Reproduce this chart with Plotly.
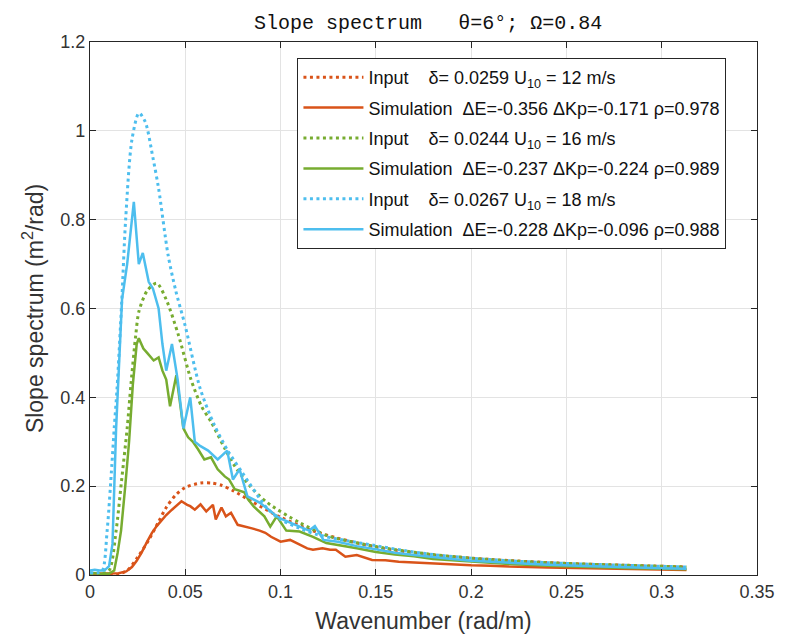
import plotly.graph_objects as go

# ---------------- data ----------------
# Input spectra (dotted)
k_in12 = [0, 0.015, 0.020, 0.025, 0.031, 0.036, 0.040, 0.045, 0.050, 0.058, 0.064, 0.069, 0.075,
          0.085, 0.10, 0.12, 0.15, 0.18, 0.21, 0.25, 0.28, 0.313]
s_in12 = [0.0, 0.002, 0.012, 0.04, 0.08, 0.12, 0.152, 0.18, 0.197, 0.207, 0.207, 0.202, 0.19,
          0.165, 0.13, 0.095, 0.063, 0.045, 0.035, 0.026, 0.022, 0.018]

k_in16 = [0, 0.006, 0.010, 0.0137, 0.0165, 0.0195, 0.0215, 0.024, 0.0257, 0.030, 0.035, 0.040,
          0.0464, 0.053, 0.0585, 0.0635, 0.0707, 0.076, 0.084, 0.093, 0.110, 0.125, 0.15, 0.18,
          0.20, 0.22, 0.25, 0.28, 0.313]
s_in16 = [0.003, 0.003, 0.01, 0.10, 0.21, 0.33, 0.43, 0.54, 0.594, 0.64, 0.657, 0.62,
          0.54, 0.44, 0.38, 0.345, 0.285, 0.245, 0.20, 0.163, 0.118, 0.088, 0.064, 0.046,
          0.038, 0.032, 0.026, 0.022, 0.018]

k_in18 = [0, 0.004, 0.0065, 0.009, 0.0115, 0.0127, 0.0142, 0.0167, 0.0187, 0.022, 0.0257, 0.029,
          0.033, 0.036, 0.041, 0.045, 0.050, 0.0578, 0.065, 0.0723, 0.080, 0.093, 0.100, 0.110,
          0.120, 0.135, 0.150, 0.165, 0.180, 0.200, 0.220, 0.250, 0.280, 0.313]
s_in18 = [0.005, 0.005, 0.01, 0.10, 0.25, 0.33, 0.42, 0.62, 0.80, 0.98, 1.04, 1.02,
          0.94, 0.87, 0.72, 0.64, 0.56, 0.42, 0.34, 0.28, 0.23, 0.15, 0.125, 0.105,
          0.09, 0.077, 0.066, 0.055, 0.046, 0.038, 0.032, 0.026, 0.022, 0.018]

# Simulated spectra (solid)
k_sim12 = [0, 0.005, 0.010, 0.015, 0.019, 0.022, 0.0245, 0.027, 0.030, 0.0325, 0.035, 0.0377,
           0.040, 0.043, 0.046, 0.048, 0.051, 0.0526, 0.055, 0.058, 0.061, 0.0645, 0.066, 0.069,
           0.0713, 0.074, 0.0775, 0.0816, 0.085, 0.089, 0.092, 0.095, 0.100, 0.105, 0.110, 0.114,
           0.117, 0.122, 0.126, 0.129, 0.134, 0.140, 0.148, 0.155, 0.162, 0.170, 0.180, 0.190,
           0.200, 0.210, 0.220, 0.240, 0.260, 0.280, 0.300, 0.313]
s_sim12 = [0.003, 0.003, 0.003, 0.004, 0.008, 0.018, 0.032, 0.05, 0.075, 0.095, 0.11, 0.125,
           0.135, 0.147, 0.158, 0.166, 0.158, 0.155, 0.147, 0.159, 0.143, 0.158, 0.125, 0.152,
           0.132, 0.14, 0.113, 0.109, 0.105, 0.10, 0.095, 0.086, 0.075, 0.079, 0.068, 0.06,
           0.057, 0.06, 0.057, 0.057, 0.041, 0.045, 0.034, 0.033, 0.03, 0.028, 0.026, 0.024,
           0.022, 0.021, 0.019, 0.017, 0.015, 0.013, 0.012, 0.011]

k_sim16 = [0, 0.005, 0.010, 0.0127, 0.0145, 0.0163, 0.0185, 0.0205, 0.0225, 0.0245, 0.0256,
           0.028, 0.030, 0.0334, 0.036, 0.038, 0.040, 0.042, 0.0453, 0.049, 0.0515, 0.054,
           0.0567, 0.060, 0.0635, 0.067, 0.0707, 0.073, 0.076, 0.081, 0.083, 0.086, 0.0915,
           0.0946, 0.098, 0.103, 0.110, 0.117, 0.124, 0.130, 0.140, 0.150, 0.160, 0.170, 0.180,
           0.190, 0.200, 0.220, 0.240, 0.260, 0.280, 0.300, 0.313]
s_sim16 = [0.005, 0.003, 0.003, 0.01, 0.05, 0.10, 0.20, 0.30, 0.43, 0.52, 0.533,
           0.51, 0.50, 0.483, 0.49, 0.46, 0.44, 0.38, 0.45, 0.33, 0.31, 0.30,
           0.283, 0.26, 0.265, 0.238, 0.222, 0.215, 0.193, 0.186, 0.17, 0.154, 0.132,
           0.109, 0.132, 0.10, 0.098, 0.086, 0.072, 0.068, 0.06, 0.052, 0.046, 0.042, 0.036,
           0.033, 0.03, 0.025, 0.021, 0.018, 0.016, 0.014, 0.013]

k_sim18 = [0, 0.0025, 0.005, 0.0075, 0.010, 0.0118, 0.0137, 0.0155, 0.0168, 0.0195, 0.023,
           0.0256, 0.0277, 0.0308, 0.033, 0.036, 0.038, 0.040, 0.043, 0.046, 0.049, 0.0526,
           0.055, 0.058, 0.062, 0.067, 0.072, 0.075, 0.0785, 0.0826, 0.086, 0.089, 0.093,
           0.098, 0.101, 0.105, 0.110, 0.115, 0.118, 0.1225, 0.130, 0.140, 0.150, 0.160,
           0.170, 0.180, 0.190, 0.200, 0.220, 0.240, 0.260, 0.280, 0.300, 0.313]
s_sim18 = [0.01, 0.012, 0.01, 0.01, 0.02, 0.07, 0.33, 0.50, 0.62, 0.70, 0.84,
           0.70, 0.725, 0.66, 0.645, 0.60, 0.52, 0.46, 0.52, 0.44, 0.33, 0.40,
           0.30, 0.29, 0.28, 0.26, 0.28, 0.215, 0.238, 0.177, 0.17, 0.163, 0.15,
           0.132, 0.125, 0.118, 0.108, 0.10, 0.11, 0.079, 0.075, 0.065, 0.058, 0.05,
           0.045, 0.04, 0.036, 0.032, 0.027, 0.023, 0.02, 0.017, 0.015, 0.014]

NB = "\u00a0"
names = [
    "Input" + NB * 4 + "δ= 0.0259 U<sub>10</sub> = 12 m/s",
    "Simulation" + NB * 2 + "ΔE=-0.356 ΔKp=-0.171 ρ=0.978",
    "Input" + NB * 4 + "δ= 0.0244 U<sub>10</sub> = 16 m/s",
    "Simulation" + NB * 2 + "ΔE=-0.237 ΔKp=-0.224 ρ=0.989",
    "Input" + NB * 4 + "δ= 0.0267 U<sub>10</sub> = 18 m/s",
    "Simulation" + NB * 2 + "ΔE=-0.228 ΔKp=-0.096 ρ=0.988",
]

ORANGE = "#D95319"
GREEN = "#77AC30"
BLUE = "#4DBEEE"

series = [
    (k_in12, s_in12, ORANGE, True),
    (k_sim12, s_sim12, ORANGE, False),
    (k_in16, s_in16, GREEN, True),
    (k_sim16, s_sim16, GREEN, False),
    (k_in18, s_in18, BLUE, True),
    (k_sim18, s_sim18, BLUE, False),
]

fig = go.Figure()
for i, (k, s, col, dotted) in enumerate(series):
    if dotted:
        line = dict(color=col, width=3, dash="3px,3.5px", shape="spline", smoothing=0.8)
    else:
        line = dict(color=col, width=2.5)
    fig.add_trace(go.Scatter(x=k, y=s, mode="lines", name=names[i], line=line,
                             legendgroup="g%d" % i))

axis_col = "#262626"
common = dict(showline=True, linecolor=axis_col, linewidth=1.2, mirror="ticks",
              ticks="inside", ticklen=6, tickcolor=axis_col, tickwidth=1,
              showgrid=True, gridcolor="#e3e3e3", gridwidth=1, zeroline=False,
              tickfont=dict(family="Liberation Sans", size=18, color="#333333"))

fig.update_layout(
    width=787, height=644,
    margin=dict(l=90, r=21, t=42, b=69),
    paper_bgcolor="white", plot_bgcolor="white",
    title=dict(text="Slope spectrum" + NB * 3 + "θ=6°; Ω=0.84",
               font=dict(family="Liberation Mono", size=20, color="#111111"),
               x=0.544, xanchor="center", y=1 - 22 / 644, yanchor="middle", yref="container"),
    xaxis=dict(range=[0, 0.35], dtick=0.05, tick0=0,
               title=dict(text="Wavenumber (rad/m)", standoff=12,
                          font=dict(family="Liberation Sans", size=23, color="#333333")),
               **common),
    yaxis=dict(range=[0, 1.2], dtick=0.2, tick0=0,
               title=dict(text="Slope spectrum (m<sup>2</sup>/rad)", standoff=10,
                          font=dict(family="Liberation Sans", size=23, color="#333333")),
               **common),
    legend=dict(x=0.311, y=0.97, xanchor="left", yanchor="top",
                bgcolor="white", bordercolor=axis_col, borderwidth=1,
                font=dict(family="Liberation Sans", size=18, color="#111111"),
                itemwidth=60, tracegroupgap=4),
    showlegend=True,
)

fig.write_html("out.html")
